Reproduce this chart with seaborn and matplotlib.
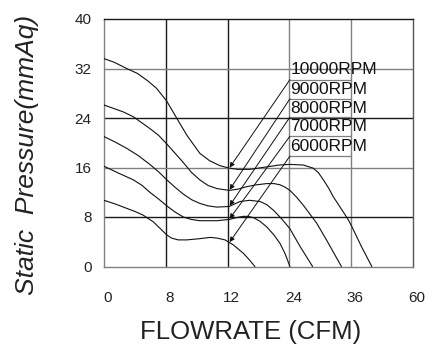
import numpy as np
import pandas as pd
import matplotlib
matplotlib.use("Agg")
import matplotlib.pyplot as plt
import matplotlib.transforms as mtransforms
import seaborn as sns

# ---- data (flow positions on the chart's linear grid, pressure in mmAq) ----
x_tick_labels = ["0", "8", "12", "24", "36", "60"]
y_ticks = [0, 8, 16, 24, 32, 40]

rpm_labels = ["10000RPM", "9000RPM", "8000RPM", "7000RPM", "6000RPM"]

flow_10000 = [0, 2.0, 4.4, 6.5, 8.5, 10.2, 12.2, 14.1, 16.1, 18.6, 20.5, 22.5, 24.3, 26.0, 28.3,
              31.6, 34.0, 36.1, 38.7, 40.6, 41.6, 42.6, 43.6, 44.5, 46.0, 47.4, 48.1, 50.0, 52.0]
pres_10000 = [33.6, 33.0, 32.0, 31.2, 30.0, 28.8, 26.7, 24.0, 21.2, 18.3, 17.1, 16.3, 15.9, 15.7, 15.7,
              16.1, 16.4, 16.5, 16.4, 15.9, 15.2, 14.0, 12.7, 11.3, 9.4, 7.6, 6.5, 3.2, 0]

flow_9000 = [0, 3.7, 5.7, 8.9, 10.6, 12.2, 13.8, 15.4, 17.0, 18.6, 20.2, 21.9, 24.3, 26.0, 27.7,
             29.6, 31.6, 33.0, 34.2, 35.2, 36.1, 37.4, 38.7, 41.3, 43.2, 46.1]
pres_9000 = [26.1, 25.0, 24.2, 22.3, 21.2, 19.8, 18.3, 16.8, 15.2, 14.0, 13.1, 12.6, 12.3, 12.5, 12.9,
             13.2, 13.4, 13.4, 13.2, 12.8, 12.3, 11.2, 9.9, 7.0, 4.3, 0]

flow_8000 = [0, 2.2, 4.4, 6.7, 8.9, 10.6, 12.2, 13.8, 15.4, 17.0, 18.6, 20.2, 21.9, 24.3, 26.4,
             28.3, 30.3, 31.6, 32.9, 34.5, 36.1, 38.1, 40.5]
pres_8000 = [21.0, 20.1, 19.1, 17.9, 16.5, 15.3, 14.0, 12.8, 11.7, 10.8, 10.2, 9.8, 9.6, 9.7, 10.5,
             10.7, 10.5, 10.0, 9.1, 7.7, 6.1, 3.2, 0]

flow_7000 = [0, 2.8, 5.7, 7.4, 8.9, 10.6, 12.2, 13.8, 15.4, 17.0, 18.6, 21.9, 24.3, 25.7, 27.0,
             28.0, 29.0, 30.3, 31.6, 33.0, 34.2, 35.2, 36.1]
pres_7000 = [16.2, 15.1, 14.0, 13.1, 12.0, 10.9, 9.8, 8.8, 8.0, 7.6, 7.4, 7.4, 7.6, 7.9, 8.1,
             8.1, 7.9, 7.3, 6.4, 5.1, 3.7, 2.0, 0]

flow_6000 = [0, 2.2, 4.4, 6.0, 7.6, 9.6, 11.2, 12.2, 13.1, 14.4, 16.1, 18.6, 20.6, 21.9, 23.5,
             25.1, 27.1, 28.2, 29.3]
pres_6000 = [10.7, 10.1, 9.4, 8.9, 8.3, 7.2, 5.9, 5.1, 4.6, 4.3, 4.3, 4.5, 4.7, 4.6, 4.3,
             3.5, 2.1, 1.1, 0]

label_y = [31.8, 28.6, 25.6, 22.7, 19.4]

curves = [(flow_10000, pres_10000), (flow_9000, pres_9000), (flow_8000, pres_8000),
          (flow_7000, pres_7000), (flow_6000, pres_6000)]

frames = []
for name, (fx, py) in zip(rpm_labels, curves):
    frames.append(pd.DataFrame({"flow": fx, "pressure": py, "rpm": name}))
df = pd.concat(frames, ignore_index=True)

# ---- style ----
sns.set_style("white")
plt.rcParams["font.family"] = ["Liberation Sans", "DejaVu Sans"]

W, H = 437, 355
fig = plt.figure(figsize=(W / 100, H / 100), dpi=100)
L, R, T, B = 104, 413, 19, 266.5
ax = fig.add_axes([L / W, 1 - B / H, (R - L) / W, (B - T) / H])

ax.set_xlim(0, 60)
ax.set_ylim(0, 40)

# grid lines (mixed dark / grey like the reference)
dark, grey = "#1a1a1a", "#808080"
for xv, c in zip([12, 24, 36, 48], [dark, dark, grey, grey]):
    ax.axvline(xv, color=c, lw=1.0, zorder=1)
for yv, c in zip([8, 16, 24, 32], [dark, grey, dark, grey]):
    ax.axhline(yv, color=c, lw=1.0, zorder=1)

for side, c in [("left", grey), ("bottom", grey), ("top", dark), ("right", "#555555")]:
    ax.spines[side].set_color(c)
    ax.spines[side].set_linewidth(1.0)

sns.lineplot(data=df, x="flow", y="pressure", hue="rpm", units="rpm", estimator=None,
             palette=["#111111"] * 5, legend=False, lw=0.8, sort=False, ax=ax, zorder=3)

ax.set_xlabel("")
ax.set_ylabel("")
ax.set_xticks(np.arange(0, 61, 12))
ax.set_xticklabels(x_tick_labels)
ax.set_yticks(y_ticks)
ax.set_yticklabels([str(v) for v in y_ticks])
ax.tick_params(axis="x", length=0, pad=18, labelsize=11, labelcolor="#222222")
ax.tick_params(axis="y", length=0, pad=9, labelsize=11, labelcolor="#222222")
shift = mtransforms.ScaledTranslation(4 / 100, 0, fig.dpi_scale_trans)
for lbl in ax.get_xticklabels():
    lbl.set_transform(lbl.get_transform() + shift)

# ---- RPM labels with boxes and arrows ----
x_box0, x_box1 = 36.1, 48.0
half = (label_y[0] - label_y[-1]) / (len(label_y) - 1) / 2
box_bottoms = [label_y[i] - half if i == len(label_y) - 1 else (label_y[i] + label_y[i + 1]) / 2
               for i in range(len(label_y))]
for i, (name, ly) in enumerate(zip(rpm_labels, label_y)):
    ax.text(x_box0 + 0.1, ly, name, fontsize=12.5, color="#111111", va="center", ha="left", zorder=5)
    ax.plot([x_box0, x_box1], [box_bottoms[i], box_bottoms[i]], color=grey, lw=0.9, zorder=2)
    fx, py = curves[i]
    tip_y = np.interp(24.4, fx, py)
    ax.annotate("", xy=(24.4, tip_y + 0.1), xytext=(x_box0, box_bottoms[i]),
                arrowprops=dict(arrowstyle="-|>", color="#111111", lw=0.7,
                                mutation_scale=7, shrinkA=0, shrinkB=0), zorder=4)

# ---- axis titles ----
fig.text(251 / W, 1 - 332 / H, "FLOWRATE (CFM)", ha="center", va="center",
         fontsize=18.5, color="#222222")
fig.text(27 / W, 1 - 155 / H, "Static  Pressure(mmAq)", ha="center", va="center",
         rotation=90, fontsize=19, style="italic", color="#222222")

fig.savefig("out.png", dpi=100)
